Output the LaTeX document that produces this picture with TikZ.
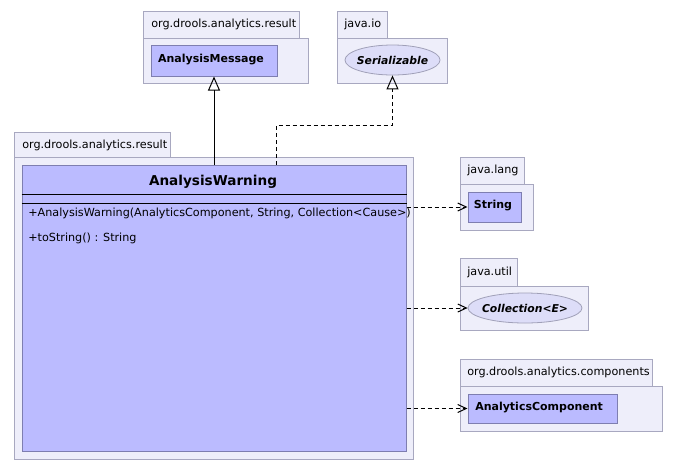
\documentclass[tikz,border=0pt]{standalone}
\usepackage{fontspec}
\setmainfont{DejaVu Sans}
\usetikzlibrary{fit,shapes.geometric,arrows.meta}
\definecolor{pkgfill}{HTML}{EEEEFA}
\definecolor{pkgdraw}{HTML}{A8A8C0}
\definecolor{clsfill}{HTML}{BBBBFF}
\definecolor{clsdraw}{HTML}{7E7EB0}
\definecolor{ifcfill}{HTML}{DDDDF8}
\definecolor{ifcdraw}{HTML}{A0A0B8}
\tikzset{
  pkg/.style={draw=pkgdraw, fill=pkgfill, line width=0.75pt, inner sep=0pt},
  cls/.style={draw=clsdraw, fill=clsfill, line width=0.75pt, inner sep=0pt},
  ifc/.style={ellipse, draw=ifcdraw, fill=ifcfill, line width=0.6pt, inner sep=0pt, minimum height=22.5pt},
  pkglabel/.style={anchor=west, inner sep=0pt, font=\fontsize{8.4}{10}\selectfont},
  clsname/.style={inner sep=0pt, font=\fontsize{8.25}{9.5}\selectfont\bfseries},
  ifcname/.style={inner sep=0pt, font=\fontsize{8.1}{9.5}\selectfont\bfseries\itshape},
  member/.style={anchor=west, inner sep=0pt, font=\fontsize{8.4}{10}\selectfont},
  gen/.style={-{Triangle[open, length=10.5pt, width=9pt]}, line width=0.75pt},
  real/.style={gen, dash pattern=on 3pt off 2.25pt},
  dep/.style={-{Straight Barb[length=6.5pt, width=6pt]}, line width=0.75pt, dash pattern=on 3pt off 2.25pt},
}
\begin{document}
\begin{tikzpicture}[x=0.75pt, y=-0.75pt]
\useasboundingbox[fill=white] (0,0) rectangle (678,469);

% package org.drools.analytics.result (top)
\node[pkg, fit={(143,11) (299,38)}] (p1tab) {};
\node[pkg, fit={(143,38) (308,83)}] (p1) {};
\node[pkglabel] (p1lbl) at (151,24.5) {org.drools.analytics.result};
\node[cls, fit={(151,45) (277,76)}] (am) {};
\node[clsname] (amtxt) at (211,60) {AnalysisMessage};

% package java.io
\node[pkg, fit={(337,11) (387,38)}] (p2tab) {};
\node[pkg, fit={(337,38) (447,83)}] (p2) {};
\node[pkglabel] (p2lbl) at (344,24.5) {java.io};
\node[ifc, minimum width=71.25pt] (ser) at (392.5,60) {};
\node[ifcname] (sertxt) at (ser.center) {Serializable};

% package org.drools.analytics.result (main)
\node[pkg, fit={(14,132) (170,157)}] (p3tab) {};
\node[pkg, fit={(14,157) (413,459)}] (p3) {};
\node[pkglabel] (p3lbl) at (22,145) {org.drools.analytics.result};
\node[cls, fit={(22,165) (406,451)}] (aw) {};
\node[inner sep=0pt, font=\fontsize{10.2}{12}\selectfont\bfseries] (awtxt) at (213,182) {AnalysisWarning};
\draw[line width=0.75pt] (aw.west |- 0,194) -- (aw.east |- 0,194);
\draw[line width=0.75pt] (aw.west |- 0,203) -- (aw.east |- 0,203);
\node[member] (m1) at (28,213) {+AnalysisWarning(AnalyticsComponent, String, Collection<Cause>)};
\node[member] (m2) at (28,238.5) {+toString() : String};

% package java.lang
\node[pkg, fit={(460,157) (524,184)}] (p4tab) {};
\node[pkg, fit={(460,184) (533,230)}] (p4) {};
\node[pkglabel] (p4lbl) at (467,170.5) {java.lang};
\node[cls, fit={(468,192) (521,222)}] (str) {};
\node[clsname] (strtxt) at (493,205.5) {String};

% package java.util
\node[pkg, fit={(460,258) (517,286)}] (p5tab) {};
\node[pkg, fit={(460,286) (588,330)}] (p5) {};
\node[pkglabel] (p5lbl) at (467,272) {java.util};
\node[ifc, minimum width=85.5pt] (col) at (525,308) {};
\node[ifcname] (coltxt) at (col.center) {Collection<E>};

% package org.drools.analytics.components
\node[pkg, fit={(460,359) (652,386)}] (p6tab) {};
\node[pkg, fit={(460,386) (662,431)}] (p6) {};
\node[pkglabel] (p6lbl) at (467,372.5) {org.drools.analytics.components};
\node[cls, fit={(468,394) (617,423)}] (ac) {};
\node[clsname, anchor=west] (actxt) at (475,407.5) {AnalyticsComponent};

% connectors
\draw[gen] (aw.north -| am.south) -- (am.south);
\coordinate (sbend) at (276,125);
\draw[real] (sbend |- aw.north) -- (sbend) -| (ser.south);
\draw[dep] (aw.east |- str.west) -- (str.west);
\draw[dep] (aw.east |- col.west) -- (col.west);
\draw[dep] (aw.east |- ac.west) -- (ac.west);
\end{tikzpicture}
\end{document}
